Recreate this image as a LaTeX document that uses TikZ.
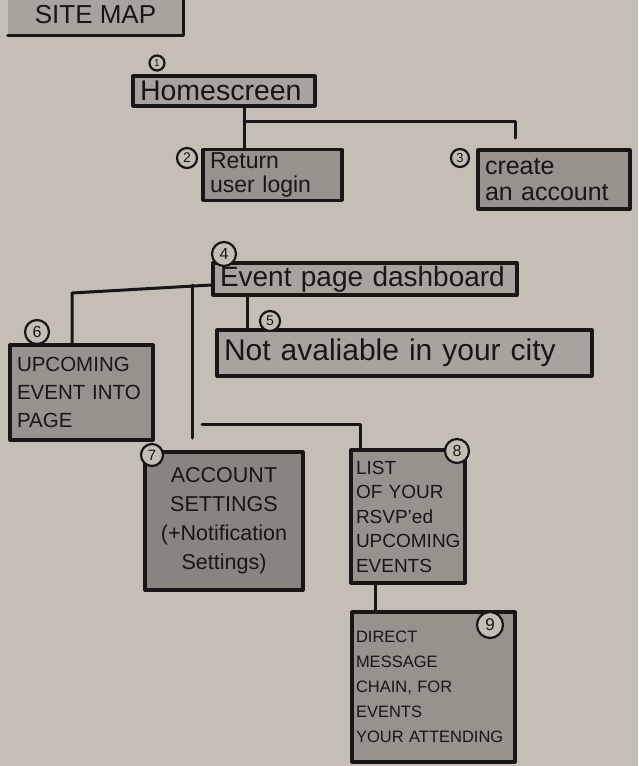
\documentclass[tikz,border=0pt]{standalone}
\usepackage{fontspec}
\setmainfont{Liberation Sans}
\usetikzlibrary{calc}
\definecolor{paper}{RGB}{196,190,181}
\definecolor{ink}{RGB}{24,22,22}
\definecolor{shadeA}{RGB}{168,163,156}
\definecolor{shadeB}{RGB}{150,146,140}
\definecolor{shadeC}{RGB}{136,132,127}
\tikzset{
  sk/.style={draw=ink, line width=3.2pt, line join=round, line cap=round},
  pagebox/.style={sk, rectangle, inner xsep=7pt, inner ysep=3pt, text=ink, fill=shadeB, align=left},
  numc/.style={draw=ink, line width=2.2pt, circle, fill=paper, inner sep=0pt, text=ink},
  link/.style={draw=ink, line width=3pt, line cap=round, line join=round},
}
\newcommand{\fsz}[2]{\fontsize{#1}{#2}\selectfont}
\begin{document}
\begin{tikzpicture}[x=1pt,y=-1pt]
\fill[paper] (0,0) rectangle (638,766);
\useasboundingbox (0,0) rectangle (638,766);

% coordinates for connector junctions
\coordinate (j1) at (244,121);
\coordinate (c3end) at (515,138);
\coordinate (ej) at (192,285);
\coordinate (e6) at (72,293);
\coordinate (vb) at (192,438);
\coordinate (h1) at (202,424);
\coordinate (h2) at (360,424);
\coordinate (e5) at (247,0);
\coordinate (l9) at (375,0);

% boxes
\node[rectangle, fill=shadeA, minimum width=175pt, minimum height=41pt, text=ink, font=\fsz{26}{28}] (site) at (95.5,14.5) {SITE MAP};
\draw[link, line width=3.2pt] (site.north east) -- (site.south east) -- (site.south west);

\node[pagebox, fill=shadeA, minimum width=182pt, minimum height=30pt, text width=168pt, font=\fsz{28.5}{30}] (home) at (224,91) {Homescreen};
\node[pagebox, minimum width=139pt, minimum height=48pt, text width=125pt, font=\fsz{23}{24}] (ret) at (272.5,175) {Return\\user login};
\node[pagebox, minimum width=152pt, minimum height=59pt, text width=138pt, font=\fsz{25}{26}] (create) at (554,179.5) {create\\an account};
\node[pagebox, fill=shadeA, minimum width=304pt, minimum height=30pt, text width=290pt, font=\fsz{28}{29}] (event) at (365,279) {Event page dashboard};
\node[pagebox, fill=shadeA, minimum width=375pt, minimum height=46pt, text width=361pt, font=\fsz{30}{31}] (notav) at (404.5,353) {Not avaliable in your city};
\node[pagebox, minimum width=143pt, minimum height=95pt, text width=129pt, font=\fsz{20.5}{28}] (up) at (81.5,392.5) {UPCOMING\\EVENT INTO\\PAGE};
\node[pagebox, fill=shadeC, minimum width=158pt, minimum height=138pt, text width=144pt, align=center, font=\fsz{21.5}{29}] (acct) at (224,521) {ACCOUNT\\SETTINGS\\(+Notification\\Settings)};
\node[pagebox, inner xsep=5pt, minimum width=114pt, minimum height=133pt, text width=104pt, font=\fsz{19}{24.5}] (list) at (408,516.5) {LIST\\OF YOUR\\RSVP'ed\\UPCOMING\\EVENTS};
\node[pagebox, inner xsep=4pt, minimum width=163pt, minimum height=150pt, text width=155pt, font=\fsz{16.5}{25}] (dm) at (433.5,687) {DIRECT\\MESSAGE\\CHAIN, FOR\\EVENTS\\\mbox{YOUR ATTENDING}};

% connectors
\draw[link] (j1 |- home.south) -- (j1 |- ret.north);
\draw[link] (j1) -| (c3end);
\draw[link] (event.west |- ej) -- (e6) -- (e6 |- up.north);
\draw[link] (ej) -- (vb);
\draw[link] (h1) -- (h2) -- (h2 |- list.north);
\draw[link] (e5 |- event.south) -- (e5 |- notav.north);
\draw[link] (l9 |- list.south) -- (l9 |- dm.north);

% number circles
\node[numc, minimum size=15pt, font=\fsz{10}{10}] (n1) at (157,63) {1};
\node[numc, minimum size=20pt, font=\fsz{14}{14}] (n2) at (187,158) {2};
\node[numc, minimum size=18pt, font=\fsz{13}{13}] (n3) at (460,158) {3};
\node[numc, minimum size=24pt, font=\fsz{16}{16}] (n4) at (224,254) {4};
\node[numc, minimum size=20pt, font=\fsz{14}{14}] (n5) at (270,321) {5};
\node[numc, minimum size=24pt, font=\fsz{16}{16}] (n6) at (37,332) {6};
\node[numc, minimum size=22pt, font=\fsz{15}{15}] (n7) at (152,455) {7};
\node[numc, minimum size=24pt, font=\fsz{16}{16}] (n8) at (457,451) {8};
\node[numc, minimum size=26pt, font=\fsz{17}{17}] (n9) at (490,625) {9};
\end{tikzpicture}
\end{document}
